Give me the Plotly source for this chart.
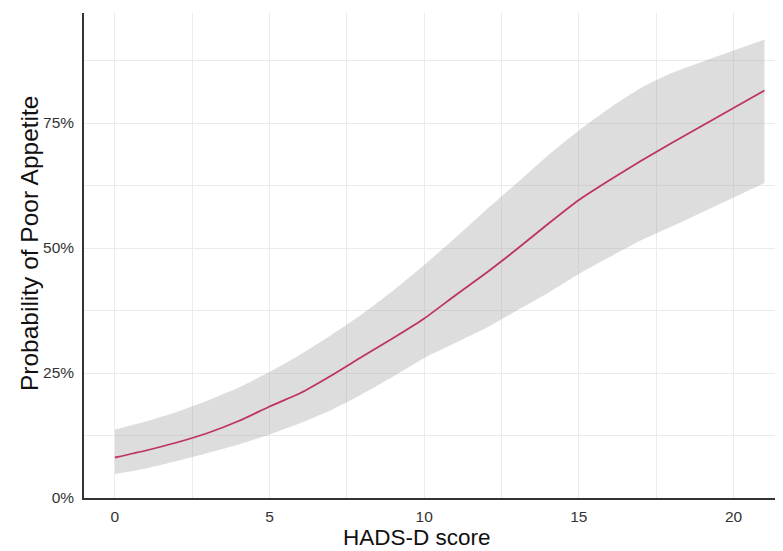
import plotly.graph_objects as go

# HADS-D score
hads_score = [0, 1, 2, 3, 4, 5, 6, 7, 8, 9, 10, 11, 12, 13, 14, 15, 16, 17, 18, 21]
# predicted probability of poor appetite (%)
prob_fit = [8.1, 9.5, 11.1, 13.0, 15.4, 18.3, 21.0, 24.5, 28.3, 32.0, 35.9,
            40.5, 45.0, 49.8, 54.8, 59.6, 63.6, 67.4, 71.0, 81.5]
# 95% confidence band (%)
prob_lower = [4.8, 5.9, 7.4, 9.0, 10.7, 12.7, 15.0, 17.6, 20.8, 24.3, 28.0,
              31.0, 34.0, 37.5, 41.0, 44.8, 48.2, 51.5, 54.3, 63.0]
prob_upper = [13.7, 15.3, 17.2, 19.5, 22.1, 25.2, 28.7, 32.6, 36.8, 41.5, 46.6,
              52.0, 57.6, 63.0, 68.5, 73.5, 78.0, 82.0, 85.0, 91.7]

y_ticks = [0, 25, 50, 75]
y_tick_labels = ["0%", "25%", "50%", "75%"]
x_ticks = [0, 5, 10, 15, 20]
x_tick_labels = ["0", "5", "10", "15", "20"]

FONT = "Liberation Sans, Arial, sans-serif"

fig = go.Figure()
fig.add_trace(go.Scatter(x=hads_score, y=prob_lower, mode="lines",
                         line=dict(width=0, shape="spline", smoothing=0.5),
                         showlegend=False, hoverinfo="skip"))
fig.add_trace(go.Scatter(x=hads_score, y=prob_upper, mode="lines",
                         line=dict(width=0, shape="spline", smoothing=0.5),
                         fill="tonexty",
                         fillcolor="rgba(165,165,165,0.38)",
                         showlegend=False, hoverinfo="skip"))
fig.add_trace(go.Scatter(x=hads_score, y=prob_fit, mode="lines",
                         line=dict(color="#bd3462", width=1.8,
                                   shape="spline", smoothing=0.5),
                         showlegend=False))

grid = "#ebebeb"
fig.update_layout(
    width=775, height=543,
    margin=dict(l=76, r=0, t=5, b=53),
    paper_bgcolor="white", plot_bgcolor="white",
    font=dict(family=FONT, color="#333333", size=15),
    xaxis=dict(
        range=[-1.0, 21.6], tickvals=x_ticks, ticktext=x_tick_labels,
        showgrid=True, gridcolor=grid,
        gridwidth=1, zeroline=False, showline=True, linecolor="#333333",
        linewidth=1.5, ticks="", ticklabelstandoff=4,
        tickfont=dict(size=15.5, color="#333333"),
        minor=dict(tickvals=[2.5, 7.5, 12.5, 17.5], showgrid=True,
                   gridcolor=grid, gridwidth=1),
    ),
    yaxis=dict(
        range=[0, 97], tickvals=y_ticks, ticktext=y_tick_labels,
        showgrid=True,
        gridcolor=grid, gridwidth=1, zeroline=False, showline=True,
        linecolor="#333333", linewidth=1.5, ticks="", ticklabelstandoff=5,
        tickfont=dict(size=15.5, color="#333333"),
        minor=dict(tickvals=[12.5, 37.5, 62.5, 87.5], showgrid=True,
                   gridcolor=grid, gridwidth=1),
    ),
    annotations=[
        dict(text="HADS-D score", xref="paper", yref="paper", x=0.477, y=-0.081,
             xanchor="center", yanchor="middle", showarrow=False, borderpad=0,
             font=dict(size=22.5, color="#111111", family=FONT)),
        dict(text="Probability of Poor Appetite", xref="paper", yref="paper",
             x=-0.077, y=0.526, xanchor="center", yanchor="middle",
             textangle=-90, showarrow=False,
             font=dict(size=24.5, color="#111111", family=FONT)),
    ],
)

fig.write_html("out.html")
